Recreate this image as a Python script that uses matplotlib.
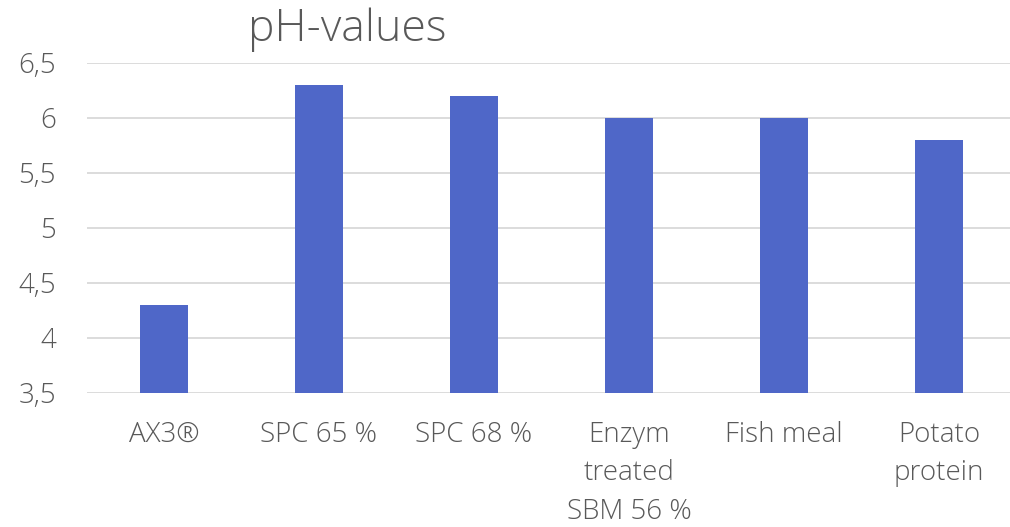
import matplotlib.pyplot as plt
from matplotlib.ticker import FuncFormatter

# data
categories = ["AX3®", "SPC 65 %", "SPC 68 %", "Enzym\ntreated\nSBM 56 %", "Fish meal", "Potato\nprotein"]
ph_values = [4.3, 6.3, 6.2, 6.0, 6.0, 5.8]
y_ticks = [3.5, 4, 4.5, 5, 5.5, 6, 6.5]

plt.rcParams['font.family'] = ['Open Sans', 'DejaVu Sans']
grey = "#595959"

fig = plt.figure(figsize=(10.1, 5.27), dpi=100)
# plot area runs a little past the right edge, like the original
ax = fig.add_axes([86.5 / 1010, 134 / 527, 930 / 1010, 330 / 527])

x = range(len(categories))
ax.bar(x, ph_values, width=0.31, color="#4F67C8", zorder=3)

ax.set_ylim(3.5, 6.5)
ax.set_xlim(-0.5, len(categories) - 0.5)
ax.set_yticks(y_ticks)
ax.yaxis.set_major_formatter(FuncFormatter(lambda v, p: f"{v:g}".replace(".", ",")))
ax.set_xticks(list(x))
ax.set_xticklabels(categories, linespacing=1.5)
ax.tick_params(axis='both', length=0, labelsize=20, colors=grey)
ax.tick_params(axis='x', pad=20)
ax.tick_params(axis='y', pad=22)
for lab in ax.get_xticklabels() + ax.get_yticklabels():
    lab.set_fontweight('light')

ax.grid(axis='y', color="#d9d9d9", linewidth=1.3, zorder=0)
for s in ax.spines.values():
    s.set_visible(False)

fig.text(347 / 1010, 1 - 30 / 527, "pH-values", ha='center', va='center',
         fontsize=32, color=grey, fontweight='light')

fig.savefig("out.png", dpi=100)
